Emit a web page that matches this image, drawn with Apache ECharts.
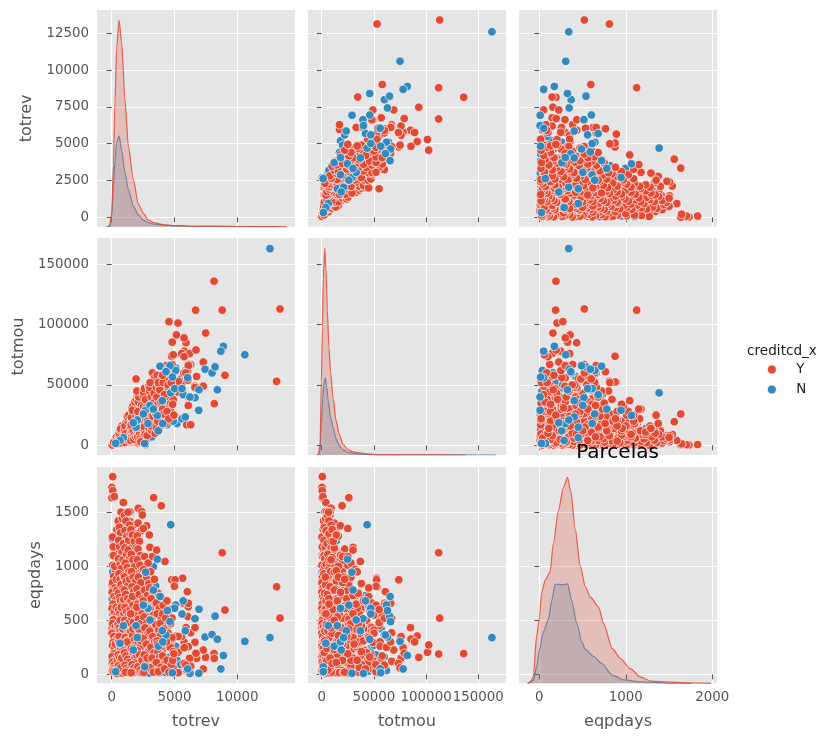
<!DOCTYPE html>
<html>
<head>
<meta charset="utf-8">
<style>html,body{margin:0;padding:0;background:#fff}#c{width:830px;height:741px}</style>
<script src="https://cdn.jsdelivr.net/npm/echarts@6/dist/echarts.min.js"></script>
</head>
<body>
<div id="c"></div>
<script>
const variables = ['totrev', 'totmou', 'eqpdays'];
const totrevTicks = [0, 5000, 10000];
const totmouTicks = [0, 50000, 100000, 150000];
const eqpdaysTicks = [0, 1000, 2000];
const totrevRowTicks = [0, 2500, 5000, 7500, 10000, 12500];
const totmouRowTicks = [0, 50000, 100000, 150000];
const eqpdaysRowTicks = [0, 500, 1000, 1500];

// [totrev, totmou, eqpdays]
const rowsNBack = [
[53,1000,1253],[300,2000,1200],[600,3000,1280],[1650,9000,1290],[1940,12000,1253],[2200,14000,1235],[130,500,818],[90,400,950],[50,250,1100],[700,5000,1000],[1000,7000,1100],[1200,12000,900],[1500,15000,1000],[2100,25000,850],[2300,18000,780],[2650,20000,980],[3320,30000,997],[2520,33000,728],[3630,42000,728],[40,300,700],[70,200,560],[20,100,420],[60,250,280],[30,180,150],[80,300,60],[120,800,30],[300,1500,90],[500,3000,15],[700,4000,12],[900,6000,25],[1200,9000,10],[1500,14000,30],[1800,18000,15],[2100,24000,20],[2600,26000,10],[3000,8000,12],[3400,33000,30],[3800,13000,15],[4300,19000,18],
[2680,500,90],[2625,1500,140],[2450,2500,330],[2900,5500,260],[3200,7000,170],[3700,12000,300],[4400,17000,380],[5200,18000,130],[5600,22000,60],[4900,20000,240],
[250,3200,620],[450,5800,880],[650,8000,1180],[900,12000,760],[1300,19000,560],[1600,26000,840],[1900,34000,520],[2400,39000,610],[2800,43000,690],[3100,47000,240],[3500,52000,180],[3900,55000,620],[4300,57000,420],[4600,60000,160],[5100,64000,260],[5500,55000,90],[5900,62000,35],
[1100,16000,200],[700,10000,390],[500,7000,150],[850,14000,60],[1400,21000,110],[1700,28000,230],[2200,33000,90],[2700,36000,160],[3300,40000,90],[3800,48000,60],[4200,50000,270],[4700,45000,30],[1000,3000,300],[1300,4000,650],[1600,6000,180],[2000,9000,530],[2400,11000,270],[2700,14000,620],[3100,17000,440],[3500,20000,820],[3900,24000,160],
[100,600,480],[220,1000,780],[350,1500,1000],[400,2500,350],[150,700,230],[600,3500,680],[800,4800,490],[1050,6000,820],[1250,7500,430],[1450,9500,730],[1750,12500,640],[2150,16000,410],[2550,22000,510],[2950,24000,330],[3250,28000,610],[3750,34000,540],[4150,37000,440],[4550,42000,500]
];

const rowsY = [
[13400,113000,520],[13130,53000,810],[8800,112000,1125],[9020,58000,595],[8150,136000,192],[6680,112000,188],[7480,93000,157],[5280,101300,204],[4560,102500,272],[5150,91500,355],[4820,85500,327],[5915,85000,432],[5760,89000,300],[4770,73800,875],[7290,69000,225],[8170,34500,148],[7290,49000,50],[6760,57000,148],[6630,49000,296],[6290,67000,385],[6130,67000,120],[5730,60000,657],[6100,33000,256],[6100,40000,625],[5780,78000,247],[5570,76000,350],[6200,76000,148],[5760,73500,100],[4900,75000,60],[4800,67000,520],[6710,79000,195],[5970,17000,40],[6290,17000,75],[5650,52500,890],[5040,52500,875],[4990,52000,815],[6020,61000,765],[6100,66000,657],[6050,54000,535],[6630,48000,432],[5300,44000,350],[1940,55000,450],[3240,60000,640],[4110,55000,480],[4700,49000,130],[5300,53000,15],[5900,60000,85],
[80,600,1830],[20,300,1730],[80,500,1700],[10,400,1635],[210,1200,1645],[930,4000,1590],[3340,26000,1635],[3950,19500,1560],[2120,9000,1537],[2390,6000,1505],[2440,8000,1475],[1460,8000,1505],[716,3000,1505],[1140,5000,1490],
[60,150,1270],[120,600,1180],[200,900,1090],[90,300,1010],[310,1600,960],[150,700,905],[70,250,850],[260,1400,800],[40,200,760],[180,1000,720],[340,2000,690],[100,500,650],[30,150,610],[220,1300,575],[400,2600,540],[130,800,505],[70,300,470],[290,1700,440],[450,3100,410],[20,120,380],[170,900,350],[360,2300,320],[110,600,295],[60,280,265],[240,1500,240],[480,4200,215],[150,800,190],[40,180,165],[320,2000,140],[90,500,115],[210,1200,90],[420,3000,70],[130,600,50],[50,250,30],[280,1900,18],[380,3500,8],[160,2500,25],[450,6000,130],[300,5000,280],[480,7500,460],[350,4000,620],[420,5500,780],[240,3000,1000],[150,2200,1100],[380,6500,880],
[520,1800,1420],[610,2500,1360],[750,4500,1500],[860,3800,1440],[700,5200,1310],[560,2200,1240],[640,3400,1180],[820,6500,1130],[930,5200,1210],[540,3000,1070],[690,4300,1020],[780,7200,980],[900,8200,1060],[580,2100,930],[670,5000,880],[740,3700,830],[880,9600,790],[950,6200,910],[530,2700,750],[620,6100,710],[710,4200,680],[810,8800,640],[960,11000,690],[550,3500,600],[650,2600,560],[760,7400,530],[870,5400,500],[980,12500,560],[510,4600,460],[600,7000,430],[690,3100,400],[790,9300,370],[890,13000,420],[970,6800,330],[560,2000,300],[660,5700,270],[730,10500,240],[840,4000,210],[940,14000,260],[520,1500,180],[620,3900,150],[720,8300,125],[820,11500,100],[910,5900,170],[980,9000,60],[540,2800,80],[640,6700,45],[750,1900,20],[850,7800,12],[950,12000,30],[600,10000,350],[680,12500,500],[770,14500,620],[860,15500,300],[800,16000,150],[700,13500,60],
[1020,5500,1470],[1140,7000,1420],[1300,6500,1500],[1420,9000,1380],[1060,4200,1330],[1210,8200,1280],[1350,11000,1240],[1480,7000,1300],[1050,9000,1170],[1180,6000,1110],[1320,13000,1150],[1450,10000,1080],[1090,7600,1030],[1240,12500,990],[1380,8500,950],[1030,3500,900],[1160,14000,860],[1290,9500,820],[1440,16000,880],[1010,11000,780],[1120,5500,740],[1270,15000,700],[1400,11500,660],[1070,8200,620],[1190,18000,580],[1330,6500,540],[1470,20000,600],[1040,13000,500],[1150,4500,460],[1260,17000,420],[1390,10500,380],[1490,21000,440],[1080,7000,340],[1210,14500,310],[1340,22000,270],[1460,8000,230],[1020,2500,200],[1130,18500,170],[1280,12000,140],[1410,23000,110],[1060,16000,85],[1190,5000,55],[1320,19500,35],[1450,13500,15],[1100,9500,20],[1240,24000,300],[1370,25000,480],
[1530,10000,1340],[1650,14000,1290],[1800,9000,1230],[1950,12000,1170],[1560,18000,1110],[1700,7000,1060],[1850,16000,1000],[1580,12000,950],[1720,21000,900],[1900,14000,860],[1620,8000,810],[1760,24000,770],[1960,19000,720],[1540,15000,680],[1690,27000,640],[1830,11000,600],[1980,30000,560],[1600,20000,520],[1740,9000,480],[1880,25000,440],[1520,6000,400],[1660,28000,360],[1810,16000,320],[1940,33000,280],[1570,23000,240],[1710,12000,200],[1860,29000,160],[1990,20000,120],[1630,31000,90],[1780,8000,60],[1910,25000,35],[1550,17000,15],[1700,33000,420],[1840,36000,560],[1960,38000,180],[1510,4000,560],[1750,5000,240],[1920,7000,700],[1650,29000,720],
[2040,16000,1280],[2200,11000,1230],[2100,22000,1160],[2300,18000,1100],[2050,9000,1060],[2250,25000,1010],[2400,14000,960],[2120,28000,900],[2330,20000,850],[2020,13000,790],[2180,31000,740],[2450,24000,700],[2080,7000,650],[2260,34000,610],[2410,17000,560],[2140,26000,510],[2350,38000,470],[2010,19000,430],[2230,10000,380],[2470,30000,340],[2110,36000,300],[2300,23000,260],[2040,41000,220],[2200,15000,180],[2380,33000,140],[2490,44000,100],[2090,28000,70],[2270,6000,40],[2430,21000,15],[2160,40000,420],[2000,45000,620],[2420,5000,130],[2310,3000,310],
[2780,18000,1375],[2520,25000,1350],[2620,20000,1090],[2900,28000,1030],[2540,32000,970],[2780,16000,900],[2950,38000,840],[2600,12000,780],[2850,30000,730],[2520,41000,680],[2720,22000,630],[2980,46000,580],[2570,15000,530],[2800,36000,480],[2650,9000,430],[2900,25000,380],[2530,44000,330],[2750,31000,280],[2990,12000,230],[2600,47000,180],[2860,20000,130],[2700,38000,90],[2950,49000,50],[2560,27000,20],[2820,8000,150],
[3000,14000,1290],[3050,30000,1175],[3260,25000,1090],[3100,34000,950],[3400,22000,880],[3020,45000,800],[3300,18000,760],[3150,40000,700],[3450,33000,650],[3080,27000,600],[3350,50000,550],[3200,12000,500],[3480,38000,450],[3040,48000,400],[3280,24000,350],[3420,56000,300],[3120,16000,250],[3380,43000,200],[3220,30000,150],[3460,10000,100],[3060,52000,60],[3320,35000,20],
[3580,30000,1150],[3700,35000,750],[3900,45000,720],[3550,48000,660],[3800,22000,610],[3620,58000,560],[3950,32000,510],[3520,26000,460],[3750,50000,410],[3880,16000,360],[3600,40000,310],[3980,56000,260],[3680,21000,210],[3820,46000,160],[3560,14000,110],[3920,36000,65],[3720,52000,25],[3850,28000,470],[3650,20000,280],
[4240,37000,1045],[4100,52000,640],[4400,40000,680],[4600,55000,600],[4050,30000,560],[4300,60000,520],[4700,35000,470],[4150,26000,420],[4500,50000,380],[4800,45000,340],[4250,18000,290],[4650,62000,250],[4900,38000,210],[4050,58000,170],[4400,28000,130],[4750,52000,90],[4200,42000,50],[4550,22000,20],[4850,34000,130],[4950,25000,190],[4350,66000,300]
];

const rowsYDense = [
[30,100,830],[100,350,790],[170,700,745],[250,1000,705],[320,1300,665],[60,220,625],[140,500,590],[210,850,555],[290,1200,525],[370,1600,490],[450,2000,455],[40,150,425],[120,450,395],[200,800,365],[280,1100,335],[360,1500,305],[440,1900,280],[80,280,250],[160,600,225],[230,950,200],[310,1300,175],[390,1700,155],[470,2200,125],[30,120,100],[110,400,80],[190,750,60],[270,1150,40],[350,1450,25],[430,1800,15],[520,2300,8],[580,1300,800],[640,1700,770],[700,2100,720],[770,2800,660],[830,3300,620],[890,3900,580],[950,4400,540],[590,1400,490],[650,1800,450],[720,2400,410],[790,3000,360],[860,3500,320],[920,4100,280],[990,4700,240],[570,1200,130],[630,1600,100],[690,2000,70],[760,2500,40],[830,3100,30],[900,3700,90],[970,4300,120],
[1040,2000,820],[1100,2600,760],[1170,3200,700],[1230,3900,640],[1300,4500,590],[1370,5100,530],[1430,5800,480],[1500,6400,420],[1070,2200,380],[1140,2800,340],[1200,3400,290],[1270,4100,250],[1340,4700,210],[1400,5300,170],[1470,6000,130],[1040,1800,130],[1110,2400,90],[1180,3000,60],[1250,3600,30],[1310,4300,15],[1380,4900,60],[1440,5600,90],
[1550,2500,1000],[1610,3000,940],[1680,3800,880],[1750,4400,820],[1820,5000,760],[1890,5600,700],[1960,6300,640],[1570,2200,580],[1630,2800,520],[1700,3500,460],[1770,4200,400],[1840,4800,340],[1910,5500,280],[1980,6100,220],[1590,2400,160],[1650,3100,100],[1720,3900,50],[1790,4500,20],[1860,5200,130],[1930,5800,190],
[2020,2500,1000],[2100,3200,930],[2180,4000,860],[2260,4800,800],[2340,5600,730],[2420,6400,660],[2060,2900,590],[2140,3600,520],[2220,4400,460],[2300,5200,390],[2380,6000,320],[2460,6800,250],[2080,2000,190],[2160,2800,120],[2240,3500,60],[2320,4200,20],[2400,5000,90],[2500,3000,500],[2600,2600,230],[2700,3500,420],
[400,1500,1340],[520,2500,1290],[650,3500,1430],[800,4000,1380],[950,4800,1330],[1100,6000,1360],[1250,7000,1430],[1350,8500,1350],[1500,9000,1410],[1700,9000,1380],[1900,10000,1300],[2100,12000,1400],[2350,13000,1330],[700,3500,1240],[850,5000,1280],[1000,4500,1240],[1150,6000,1190],[1300,9000,1100],[1450,12000,1160],[1600,11000,1180],[1750,13000,1130],[1900,15000,1070],[2050,17000,1130],[480,2000,1150],[600,4000,1120],[750,6000,1070],[900,6500,1000],[1050,8500,960],[1200,10000,1040],[1350,12000,1020],[1500,12000,900],[1650,17000,980],[1800,19000,930],[1950,20000,950],[2150,20000,1040],[2350,22000,900],[2500,26000,820],
[1500,16000,640],[1800,22000,210],[2000,25000,330],[2200,28000,560],[2400,31000,400],[2600,34000,250],[2800,37000,120],[3000,40000,320],[3200,43000,500],[3400,46000,420],[3600,44000,130],[3800,42000,380],[4000,40000,220],[4200,38000,620],[1600,13000,300],[1900,17000,460],[2100,19000,90],[2400,23000,170],[2700,26000,350],[3000,24000,470],[3300,27000,280],[3600,29000,620],[3900,26000,90],[4200,30000,360],[4500,32000,120],[4700,28000,300],[2300,29000,230],[2600,39000,410],[2900,42000,220],[3200,36000,80],[3500,38000,350],[3800,36000,230],[4100,46000,120],[4400,47000,440],[1200,17000,490],[1400,20000,240],[1000,14000,380],[800,12000,220],[1100,12000,660],[1350,16000,770],[1700,23000,530]
];

const rowsNFront = [
[4700,43500,1385],[6950,46000,602],[10600,75000,305],[12600,163000,340],[7430,63000,345],[7990,60000,368],[8410,46000,325],[8230,65000,539],[6630,39500,515],[5690,42000,680],[5090,62000,642],[5010,47000,611],[5600,47000,558],[5860,23500,403],[8890,82000,174],[8690,78000,50],[6930,29000,10],[6230,40000,9],[6050,56000,50],[4830,56500,15],[3850,65500,720],[4430,63000,590],[4640,66000,488],[4320,61000,364],[2890,18000,611],[3710,12000,260],[2625,1500,70],[4060,18000,300],
[3630,24700,1065],[2700,29000,945],[3050,33000,503],[930,6300,450],[1940,15000,450],[2040,21000,340],[660,4000,287],[1720,18700,225],[320,1600,25],[3320,30000,780],[4030,37000,404],[2520,26000,640]
];

// density curves: [value, relative height]
const kdeTotrevY = [[-398,0],[-186,0.5],[0,6],[133,30],[265,61],[398,87],[583,100],[796,89],[1061,61],[1326,39],[1724,23],[2122,11],[2520,6.5],[2918,3.2],[3316,2],[4111,1],[4987,0.5],[7029,0.2],[10000,0.1],[13925,0]];
const kdeTotrevN = [[-300,0],[-100,0.3],[0,5],[133,19],[265,32],[398,41],[583,44],[796,37],[1061,26],[1326,18],[1724,10],[2122,5.7],[2520,3.2],[2918,2],[3316,1.3],[4111,0.7],[4987,0.5],[7029,0.2],[10000,0.1],[13200,0]];
const kdeTotmouY = [[-4750,0],[-3165,0.5],[-1580,5],[-316,35],[633,62],[1580,85],[2850,100],[4115,90],[5380,70],[6960,52],[8545,40],[11080,27],[13600,17],[16775,10],[20570,5],[25320,2.5],[30070,1.5],[36400,1],[42730,0.5],[55390,0.2],[74380,0.1],[137700,0]];
const kdeTotmouN = [[-3165,0],[-1580,2],[-316,15],[950,27],[2215,35],[3480,37.3],[4750,33],[6330,26],[8545,18],[11080,13],[13600,8],[16775,4.5],[20570,2.5],[25320,1.2],[30070,0.8],[36400,0.5],[42730,0.3],[55390,0.1],[167000,0]];
const kdeEqpdaysY = [[-140,0],[-109,0.3],[-70,3],[-31,23],[0,31],[27,44],[66,50],[124,54],[163,68],[221,84],[279,95],[326,100],[364,93],[415,75],[473,57],[531,47],[589,42],[686,37],[744,29],[841,17],[938,12],[1054,7],[1171,3],[1287,1.1],[1519,0.6],[1752,0.2],[1984,0]];
const kdeEqpdaysN = [[-128,0],[-70,1.5],[-31,8],[0,16],[47,25],[105,31],[143,40],[182,48],[221,48],[260,47.8],[326,48.3],[376,40],[434,29],[492,20],[531,16.5],[628,13],[725,9.5],[841,4],[977,1.7],[1171,0.7],[1364,0.3],[1519,0.1],[1752,0]];

const RED = '#E24A33', BLUE = '#348ABD', INK = '#555555';
const colX = [
  {left: 97, width: 198, min: -1170, max: 14594, ticks: totrevTicks},
  {left: 308, width: 198, min: -13120, max: 176500, ticks: totmouTicks},
  {left: 519, width: 198, min: -235, max: 2054, ticks: eqpdaysTicks}
];
const rowY = [
  {top: 10, height: 216.7, min: -640, max: 14083, ticks: totrevRowTicks, gap: 62},
  {top: 238, height: 217, min: -8040, max: 171800, ticks: totmouRowTicks, gap: 70},
  {top: 467, height: 216.3, min: -83, max: 1919, ticks: eqpdaysRowTicks, gap: 53}
];
const kdes = [[kdeTotrevY, kdeTotrevN], [kdeTotmouY, kdeTotmouN], [kdeEqpdaysY, kdeEqpdaysN]];
const plain = v => String(v);

const grid = [], xAxis = [], yAxis = [], series = [];
const tickStyle = {show: true, length: 5, lineStyle: {color: INK, width: 1}};
for (let r = 0; r < 3; r++) {
  for (let c = 0; c < 3; c++) {
    const X = colX[c], Y = rowY[r];
    grid.push({left: X.left, width: X.width, top: Y.top, height: Y.height, show: true, backgroundColor: '#E5E5E5', borderWidth: 0, containLabel: false});
    const gi = grid.length - 1;
    xAxis.push({
      type: 'value', gridIndex: gi, min: X.min, max: X.max,
      axisLine: {show: false},
      axisTick: Object.assign({customValues: X.ticks}, tickStyle),
      splitLine: {show: true, lineStyle: {color: '#fff', width: 1.1}},
      axisLabel: {show: r === 2, customValues: X.ticks, formatter: plain, hideOverlap: false, color: INK, fontFamily: 'DejaVu Sans', fontSize: 13.4, margin: 8},
      name: r === 2 ? variables[c] : '', nameLocation: 'middle', nameGap: 31,
      nameTextStyle: {color: INK, fontFamily: 'DejaVu Sans', fontSize: 16}
    });
    yAxis.push({
      type: 'value', gridIndex: gi, min: Y.min, max: Y.max,
      axisLine: {show: false},
      axisTick: Object.assign({customValues: Y.ticks}, tickStyle),
      splitLine: {show: true, lineStyle: {color: '#fff', width: 1.1}},
      axisLabel: {show: c === 0, customValues: Y.ticks, formatter: plain, hideOverlap: false, color: INK, fontFamily: 'DejaVu Sans', fontSize: 13.4, margin: 8},
      name: c === 0 ? variables[r] : '', nameLocation: 'middle', nameGap: Y.gap,
      nameTextStyle: {color: INK, fontFamily: 'DejaVu Sans', fontSize: 16}
    });
  }
}
let extra = 9;
for (let r = 0; r < 3; r++) {
  for (let c = 0; c < 3; c++) {
    const gi = r * 3 + c;
    if (r === c) {
      yAxis.push({type: 'value', gridIndex: gi, min: 0, max: 105, show: false, splitLine: {show: false}});
      const yi = extra++;
      [[kdes[r][1], BLUE, 'N density', 3], [kdes[r][0], RED, 'Y density', 4]].forEach(([d, col, nm, z]) => {
        series.push({
          type: 'line', name: nm, xAxisIndex: gi, yAxisIndex: yi, data: d, z: z,
          showSymbol: false, symbol: 'none', smooth: 0.25, smoothMonotone: 'x',
          lineStyle: {color: col, width: 1.2, opacity: 0.85}, areaStyle: {color: col, opacity: 0.25}, silent: true
        });
      });
    } else {
      [[rowsNBack, BLUE, 'N', 2], [rowsYDense.concat(rowsY), RED, 'Y', 3], [rowsNFront, BLUE, 'N', 4]].forEach(([rows, col, nm, z]) => {
        series.push({
          type: 'scatter', name: nm, xAxisIndex: gi, yAxisIndex: gi, z: z,
          data: rows.map(p => [p[c], p[r]]), symbol: 'circle', symbolSize: 8.6,
          itemStyle: {color: col, borderColor: '#fff', borderWidth: 0.7, opacity: 1}, silent: true
        });
      });
    }
  }
}

const chart = echarts.init(document.getElementById('c'), null, {renderer: 'canvas'});
chart.setOption({
  animation: false,
  backgroundColor: '#fff',
  title: [
    {text: 'Parcelas', left: 617.5, top: 443, textAlign: 'center', padding: 0, textStyle: {color: '#000', fontFamily: 'DejaVu Sans', fontSize: 20, fontWeight: 'normal'}, z: 20},
    {text: 'creditcd_x', left: 782, top: 344, textAlign: 'center', padding: 0, textStyle: {color: '#222', fontFamily: 'DejaVu Sans', fontSize: 13.6, fontWeight: 'normal'}}
  ],
  legend: {
    data: [{name: 'Y', icon: 'circle'}, {name: 'N', icon: 'circle'}],
    orient: 'vertical', left: 767, top: 363, padding: 0, itemWidth: 9, itemHeight: 9, itemGap: 7, selectedMode: false,
    itemStyle: {borderColor: '#fff', borderWidth: 0.7},
    textStyle: {color: '#222', fontFamily: 'DejaVu Sans', fontSize: 13.4, padding: [0, 0, 0, 15]}
  },
  grid, xAxis, yAxis, series
});
</script>
</body>
</html>
